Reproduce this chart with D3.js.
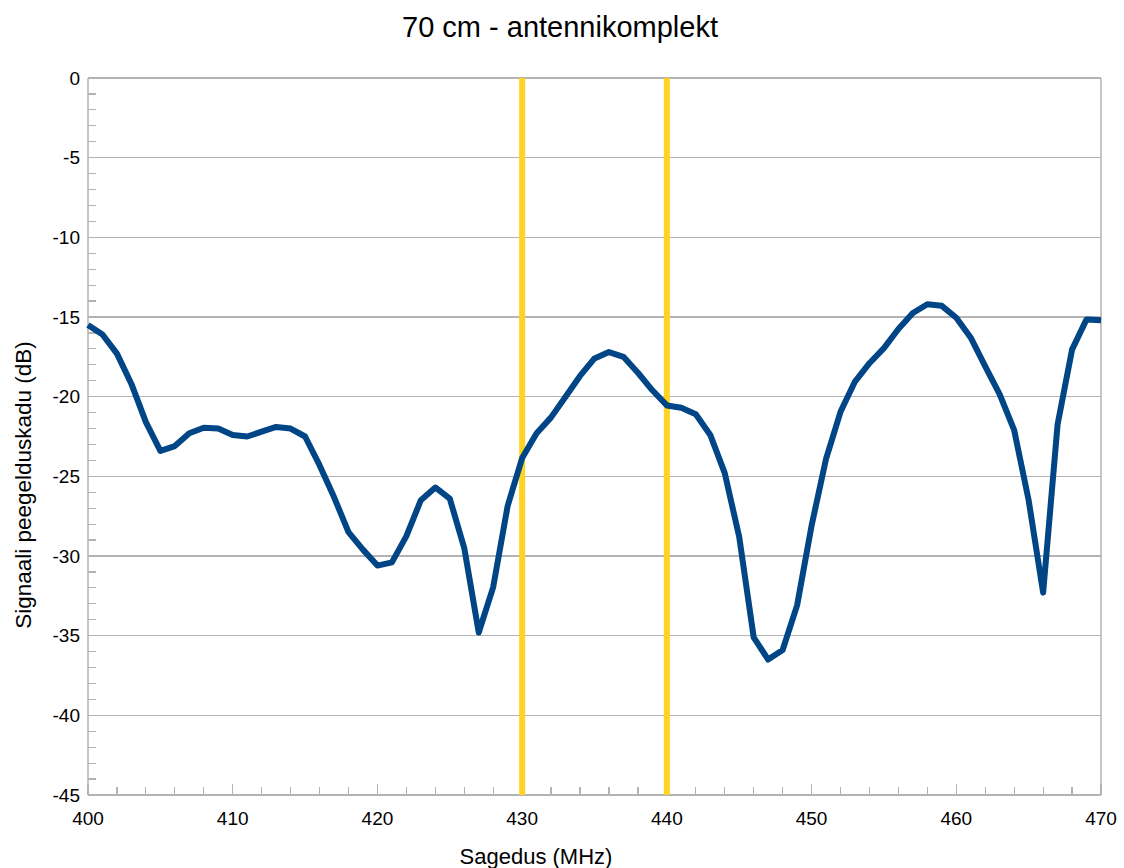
<!DOCTYPE html>
<html><head><meta charset="utf-8">
<script src="https://cdn.jsdelivr.net/npm/d3@7"></script>
<style>html,body{margin:0;padding:0;background:#fff;}svg{display:block;font-family:"Liberation Sans",Arial,sans-serif;}</style>
</head><body>
<svg id="c" width="1124" height="868"></svg>
<script>
const title = "70 cm - antennikomplekt";
const xTitle = "Sagedus (MHz)";
const yTitle = "Signaali peegelduskadu (dB)";
const freqs = d3.range(400, 471);
const values = [
 -15.5,-16.1,-17.3,-19.2,-21.6,-23.4,-23.1,-22.3,-21.95,-22.0,
 -22.4,-22.5,-22.2,-21.9,-22.0,-22.5,-24.3,-26.3,-28.5,-29.6,
 -30.6,-30.4,-28.75,-26.5,-25.7,-26.4,-29.5,-34.8,-31.95,-26.85,
 -23.85,-22.3,-21.3,-20.0,-18.7,-17.6,-17.2,-17.5,-18.5,-19.6,
 -20.55,-20.7,-21.1,-22.4,-24.8,-28.8,-35.1,-36.5,-35.9,-33.1,
 -28.1,-23.9,-20.95,-19.05,-17.9,-16.95,-15.75,-14.75,-14.2,-14.3,
 -15.05,-16.3,-18.1,-19.85,-22.1,-26.5,-32.3,-21.75,-17.05,-15.15,
 -15.2
];
const markers = [430, 440];
const xTicks = [400,410,420,430,440,450,460,470];
const yTicks = [0,-5,-10,-15,-20,-25,-30,-35,-40,-45];

const svg = d3.select("#c");
const L = 88, R = 1101, T = 78, B = 795;
const x = d3.scaleLinear().domain([400,470]).range([L,R]);
const y = d3.scaleLinear().domain([-45,0]).range([B,T]);
const grey = "#b3b3b3";

// gridlines
svg.append("g").selectAll("line").data(yTicks).join("line")
  .attr("x1",L).attr("x2",R).attr("y1",d=>y(d)).attr("y2",d=>y(d))
  .attr("stroke",grey).attr("stroke-width",1.2).attr("shape-rendering","crispEdges");
// right border
svg.append("line").attr("x1",R).attr("x2",R).attr("y1",T).attr("y2",B)
  .attr("stroke",grey).attr("stroke-width",1.5);

// minor ticks y
svg.append("g").selectAll("line").data(d3.range(-45,1,1)).join("line")
  .attr("x1",L).attr("x2",d=>d%5===0?L+11:L+8).attr("y1",d=>y(d)).attr("y2",d=>y(d))
  .attr("stroke",grey).attr("stroke-width",1.2).attr("shape-rendering","crispEdges");
// minor ticks x
svg.append("g").selectAll("line").data(d3.range(400,471,2)).join("line")
  .attr("y1",B).attr("y2",d=>d%10===0?B-11:B-8).attr("x1",d=>x(d)).attr("x2",d=>x(d))
  .attr("stroke",grey).attr("stroke-width",1.2).attr("shape-rendering","crispEdges");
// axes lines
svg.append("line").attr("x1",L).attr("x2",L).attr("y1",T).attr("y2",B).attr("stroke",grey).attr("stroke-width",1.5);
svg.append("line").attr("x1",L).attr("x2",R).attr("y1",B).attr("y2",B).attr("stroke",grey).attr("stroke-width",1.5);

// tick labels
svg.append("g").selectAll("text").data(yTicks).join("text")
  .attr("x",L-8).attr("y",d=>y(d)).attr("dy","0.35em").attr("text-anchor","end")
  .attr("font-size",19).attr("fill","#000").text(d=>d);
svg.append("g").selectAll("text").data(xTicks).join("text")
  .attr("x",d=>x(d)).attr("y",825).attr("text-anchor","middle")
  .attr("font-size",19).attr("fill","#000").text(d=>d);

// marker lines
svg.append("g").selectAll("line").data(markers).join("line")
  .attr("x1",d=>x(d)).attr("x2",d=>x(d)).attr("y1",T).attr("y2",B)
  .attr("stroke","#ffd320").attr("stroke-width",6);

// data line
const line = d3.line().x((d,i)=>x(freqs[i])).y(d=>y(d));
svg.append("path").datum(values).attr("d",line).attr("fill","none")
  .attr("stroke","#004586").attr("stroke-width",6).attr("stroke-linejoin","round");

// titles
svg.append("text").attr("x",560).attr("y",37).attr("text-anchor","middle")
  .attr("font-size",29).attr("fill","#000").text(title);
svg.append("text").attr("x",536).attr("y",864).attr("text-anchor","middle")
  .attr("font-size",22).attr("fill","#000").text(xTitle);
svg.append("text").attr("transform","translate(31,485) rotate(-90)").attr("text-anchor","middle")
  .attr("font-size",22.5).attr("fill","#000").text(yTitle);
</script>
</body></html>
